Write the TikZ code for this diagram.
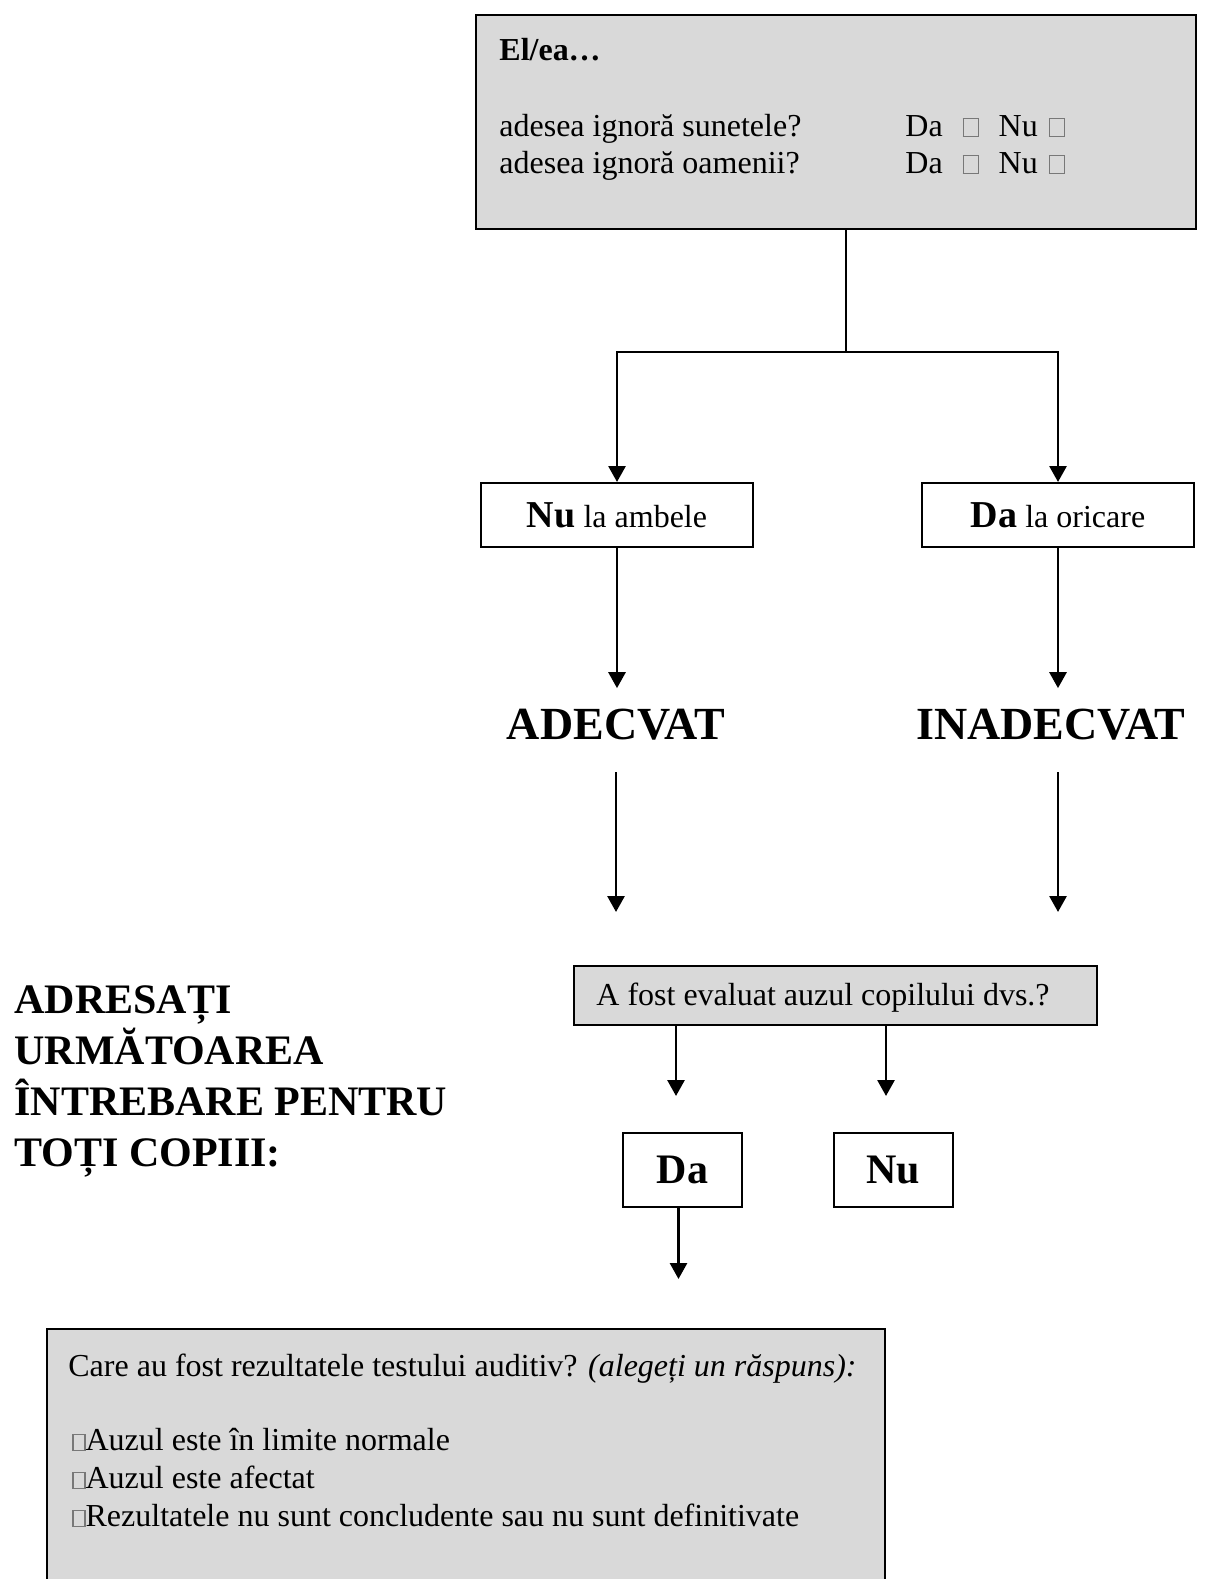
\documentclass[tikz,border=0pt]{standalone}
\usepackage{fontspec}
\setmainfont{Liberation Serif}
\usetikzlibrary{positioning,arrows.meta}
\tikzset{
  >={Triangle[length=8pt,width=8.5pt]},
  flow/.style    ={line width=1.4pt, ->},
  link/.style    ={line width=1.4pt},
  greybox/.style ={draw, fill=panelgrey, line width=1pt},
  whitebox/.style={draw, line width=1pt},
  lbl/.style     ={inner sep=0pt, anchor=base west},
  verdict/.style ={inner sep=0pt, anchor=base, font=\fontsize{23}{27}\selectfont\bfseries},
  title/.style   ={lbl, font=\fontsize{21}{25.7}\selectfont\bfseries},
}
\definecolor{panelgrey}{RGB}{217,217,217}
\definecolor{tickgrey}{RGB}{120,120,120}
\newcommand{\ckbox}[2]{\textcolor{tickgrey}{\fboxsep=0pt\fboxrule=0.6pt\fbox{\rule{0pt}{#2}\hspace{#1}}}}

\begin{document}
\begin{tikzpicture}[x=0.5pt, y=-0.5pt, font=\fontsize{16}{19}\selectfont]
  \useasboundingbox (0,0) rectangle (1212,1579);
  \clip (0,0) rectangle (1212,1579);

  % screening questions
  \node[greybox, minimum width=360pt, minimum height=107pt] (top) at (836,122) {};
  \node[lbl] (elea) at (499,61) {\textbf{El/ea…}};
  \node[lbl] (sunete) at (499,136) {adesea ignoră sunetele?};
  \node[lbl] (oameni) at (499,173) {adesea ignoră oamenii?};
  \node[lbl] (danu1) at (905,136) {Da\hspace{10pt}\ckbox{6.8pt}{8.3pt}\hspace{10pt}Nu\hspace{5.5pt}\ckbox{6.8pt}{8.3pt}};
  \node[lbl] (danu2) at (905,173) {Da\hspace{10pt}\ckbox{6.8pt}{8.3pt}\hspace{10pt}Nu\hspace{5.5pt}\ckbox{6.8pt}{8.3pt}};

  % split into the two answers
  \coordinate (split) at (846,352);
  \node[whitebox, minimum width=136pt, minimum height=32pt] (nuamb) at (617,515)
    {{\fontsize{19}{22}\selectfont\bfseries Nu} la ambele};
  \node[whitebox, minimum width=136pt, minimum height=32pt] (daor) at (1058,515)
    {{\fontsize{19}{22}\selectfont\bfseries Da} la oricare};
  \draw[link] (top.south -| split) -- (split);
  \draw[flow] (split) -| (nuamb.north);
  \draw[flow] (split) -| (daor.north);

  % verdicts
  \node[verdict] (adecvat) at (616,739) {ADECVAT};
  \node[verdict] (inadecvat) at (1051,739) {INADECVAT};
  \draw[flow, shorten >=10pt] (nuamb.south) -- (nuamb.south |- adecvat.north);
  \draw[flow, shorten >=10pt] (daor.south) -- (daor.south |- inadecvat.north);

  % question for all children
  \node[greybox, minimum width=261.5pt, minimum height=29.5pt] (question) at (835.5,995.5) {};
  \node[lbl] (evaluat) at (596,1005) {A fost evaluat auzul copilului dvs.?};
  \draw[flow, shorten <=16pt, shorten >=26.5pt] (adecvat.south) -- (adecvat.south |- question.north);
  \draw[flow, shorten <=16pt, shorten >=26.5pt] (daor.south |- inadecvat.south) -- (daor.south |- question.north);

  \node[title] (titlu1) at (14,1013) {ADRESAȚI};
  \node[title] (titlu2) at (14,1064) {URMĂTOAREA};
  \node[title] (titlu3) at (14,1115) {ÎNTREBARE PENTRU};
  \node[title] (titlu4) at (14,1166) {TOȚI COPIII:};

  \node[whitebox, minimum width=59.5pt, minimum height=37pt,
        font=\fontsize{21}{25}\selectfont\bfseries] (daq) at (682.5,1170) {Da};
  \node[whitebox, minimum width=59.5pt, minimum height=37pt,
        font=\fontsize{21}{25}\selectfont\bfseries] (nuq) at (893.5,1170) {Nu};
  \draw[flow, shorten >=18pt] ([xshift=-3.25pt]daq.north |- question.south) -- ([xshift=-3.25pt]daq.north);
  \draw[flow, shorten >=18pt] ([xshift=-3.75pt]nuq.north |- question.south) -- ([xshift=-3.75pt]nuq.north);

  % hearing test results
  \node[greybox, anchor=north west, minimum width=419pt, minimum height=150pt] (result) at (46,1328) {};
  \draw[flow, shorten >=24.5pt] ([xshift=-2pt]daq.south) -- ([xshift=-2pt]daq.south |- result.north);
  \node[lbl] (care) at (68,1376) {Care au fost rezultatele testului auditiv? \textit{(alegeți un răspuns):}};
  \node[lbl] (normal) at (72,1450) {\ckbox{5.4pt}{7.4pt}Auzul este în limite normale};
  \node[lbl] (afectat) at (72,1488) {\ckbox{5.4pt}{7.4pt}Auzul este afectat};
  \node[lbl] (neclar) at (72,1526) {\ckbox{5.4pt}{7.4pt}Rezultatele nu sunt concludente sau nu sunt definitivate};
\end{tikzpicture}
\end{document}
